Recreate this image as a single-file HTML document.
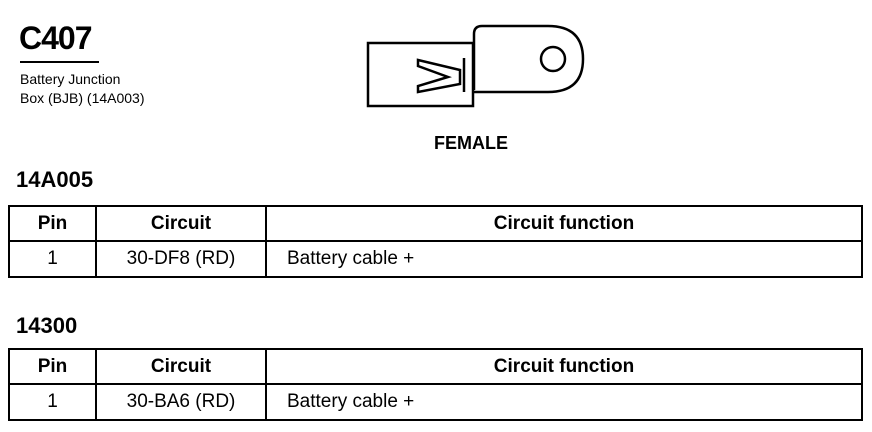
<!DOCTYPE html><html><head><style>
body{margin:0;width:872px;height:432px;background:#fff;font-family:"Liberation Sans",sans-serif;position:relative;overflow:hidden;color:#000}
.a{position:absolute}
table{position:absolute;left:8px;width:855px;border-collapse:collapse}
td{border:2px solid #000;height:34px;font-size:19px;padding:0}
th{border:2px solid #000;height:33px;font-size:19px;font-weight:bold;padding:0}
</style></head><body>
<div class="a" style="left:19px;top:20px;font-size:32px;font-weight:bold;letter-spacing:-1px">C407</div>
<div class="a" style="left:20px;top:61px;width:79px;border-top:2px solid #000"></div>
<div class="a" style="left:20px;top:70px;font-size:14px;line-height:19px">Battery Junction<br>Box (BJB) (14A003)</div>
<svg class="a" style="left:0;top:0" width="872" height="140">
<g fill="none" stroke="#000" stroke-width="2.5">
<rect x="368" y="43" width="105" height="63"/>
<path d="M474 90 L474 34 Q474 26 482 26 L548 26 Q583 26 583 59 Q583 92 548 92 L474 92"/>
<circle cx="553" cy="59" r="12"/>
<path d="M464 58 L464 92"/>
<path d="M418 60 L460 70 L460 84 L418 92 L418 86 L448 77 L418 66 Z"/>
</g></svg>
<div class="a" style="left:434px;top:133px;font-size:18px;font-weight:bold">FEMALE</div>
<div class="a" style="left:16px;top:167px;font-size:22px;font-weight:bold">14A005</div>
<table style="top:205px"><tr><th style="width:85px">Pin</th><th style="width:168px">Circuit</th><th>Circuit function</th></tr>
<tr><td style="text-align:center">1</td><td style="text-align:center">30-DF8 (RD)</td><td style="padding-left:20px">Battery cable +</td></tr></table>
<div class="a" style="left:16px;top:313px;font-size:22px;font-weight:bold">14300</div>
<table style="top:348px"><tr><th style="width:85px">Pin</th><th style="width:168px">Circuit</th><th>Circuit function</th></tr>
<tr><td style="text-align:center">1</td><td style="text-align:center">30-BA6 (RD)</td><td style="padding-left:20px">Battery cable +</td></tr></table>
</body></html>
